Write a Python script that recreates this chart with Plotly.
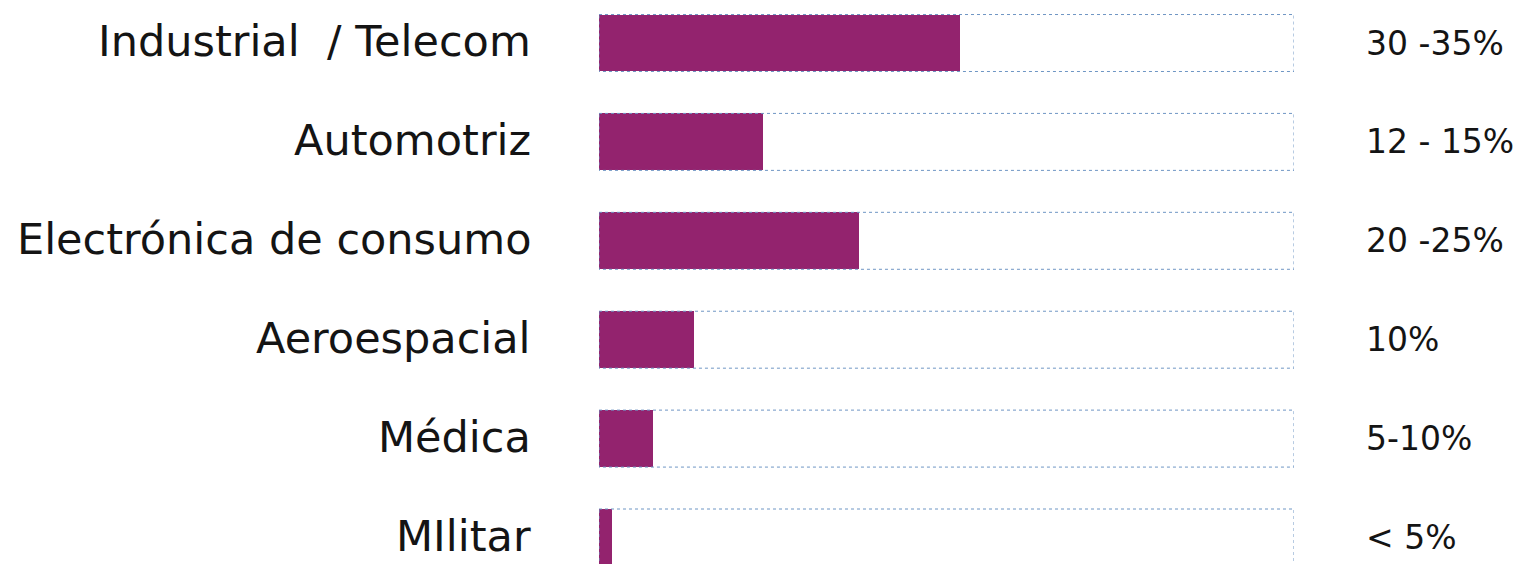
import plotly.graph_objects as go

categories = ["Industrial  / Telecom", "Automotriz", "Electrónica de consumo",
              "Aeroespacial", "Médica", "MIlitar"]
bar_values = [52.0, 23.6, 37.4, 13.7, 7.8, 1.9]
box_max = 100.0
value_labels = ["30 -35%", "12 - 15%", "20 -25%", "10%", "5-10%", "< 5%"]

BAR_COLOR = "#93236e"
BORDER_COLOR = "#6f96c4"
TEXT_COLOR = "#141414"
FONT = "DejaVu Sans"
OFF = 8  # default page body margin
W, H = 1522 - OFF, 564 - OFF
X0, X1 = 599 - OFF, 1294 - OFF
BAR_H = 0.576

idx = list(range(len(categories)))

fig = go.Figure()
fig.add_trace(go.Bar(
    x=bar_values, y=idx, orientation="h", width=BAR_H,
    marker=dict(color=BAR_COLOR, line=dict(width=0)),
    hoverinfo="x+y", showlegend=False,
))

for i in idx:
    fig.add_shape(type="rect", xref="x", yref="y",
                  x0=0, x1=box_max, y0=i - BAR_H / 2, y1=i + BAR_H / 2,
                  line=dict(color=BORDER_COLOR, width=1, dash="dot"),
                  fillcolor="rgba(0,0,0,0)", layer="above")
    fig.add_annotation(x=(533 - OFF) / W, xref="paper", y=i - 0.02, yref="y",
                       text=categories[i], showarrow=False, xanchor="right",
                       yanchor="middle",
                       font=dict(family=FONT, size=43, color=TEXT_COLOR))
    fig.add_annotation(x=(1364 - OFF) / W, xref="paper", y=i, yref="y",
                       text=value_labels[i], showarrow=False, xanchor="left",
                       yanchor="middle",
                       font=dict(family=FONT, size=33, color=TEXT_COLOR))

fig.update_layout(
    width=W, height=H,
    margin=dict(l=0, r=0, t=0, b=0),
    paper_bgcolor="white", plot_bgcolor="white",
    bargap=0,
    xaxis=dict(domain=[X0 / W, X1 / W], range=[0, box_max], visible=False,
               fixedrange=True),
    yaxis=dict(range=[5.268, -0.354], visible=False, fixedrange=True),
)

fig.write_html("out.html")
